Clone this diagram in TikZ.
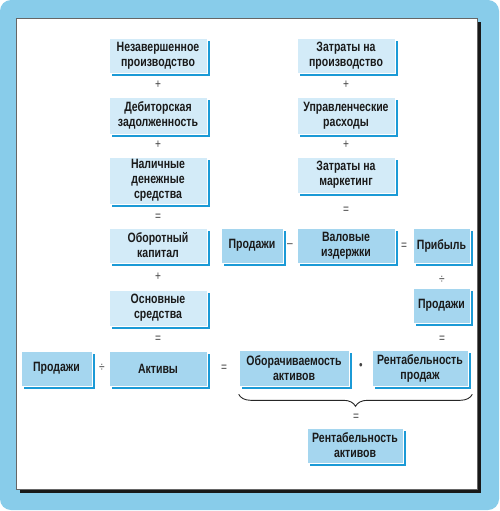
\documentclass[tikz,border=0pt]{standalone}
\usepackage{fontspec}
\setmainfont{Liberation Sans}[FakeStretch=0.78]
\usetikzlibrary{shadows,calc,decorations.pathreplacing}
\definecolor{outerblue}{HTML}{88CCEA}
\definecolor{lightbox}{HTML}{D3EBF8}
\definecolor{midbox}{HTML}{A5D6EF}
\definecolor{shadowblue}{HTML}{1B9AD6}
\definecolor{txt}{HTML}{1A1A1A}
\definecolor{optxt}{HTML}{444444}
\tikzset{
  boxbase/.style={draw=white, line width=0.6pt, align=center, text=txt,
    font=\fontsize{13.5}{15}\selectfont\bfseries, inner sep=0pt,
    drop shadow={shadow xshift=3.2pt, shadow yshift=-3.2pt, fill=shadowblue, opacity=1}},
  lbox/.style={boxbase, fill=lightbox},
  mbox/.style={boxbase, fill=midbox},
  op/.style={text=optxt, font=\fontsize{13}{14}\selectfont, inner sep=0pt}
}
\begin{document}
\begin{tikzpicture}[x=1pt,y=-1pt]
\useasboundingbox (0,0) rectangle (500,511);
\fill[white] (0,0) rectangle (500,511);
\fill[outerblue, rounded corners=11pt] (0,0) rectangle (499,510);
\fill[black!90] (20,22) rectangle (481,493);
\filldraw[fill=white, draw=black!60, line width=0.8pt] (16,18) rectangle (477,489);

% left column
\node[lbox, minimum width=98pt, minimum height=35pt] (nez) at (158,55.5) {Незавершенное\\производство};
\node[op] (p1) at (158,85) {+};
\node[lbox, minimum width=98pt, minimum height=37pt] (deb) at (158,115.5) {Дебиторская\\задолженность};
\node[op] (p2) at (158,145) {+};
\node[lbox, minimum width=98pt, minimum height=47pt] (nal) at (158,180.5) {Наличные\\денежные\\средства};
\node[op] (e1) at (158,217) {=};
\node[lbox, minimum width=98pt, minimum height=35pt] (obk) at (158,245.5) {Оборотный\\капитал};
\node[op] (p3) at (158,277) {+};
\node[lbox, minimum width=98pt, minimum height=36pt] (osn) at (158,308) {Основные\\средства};
\node[op] (e2) at (158,339) {=};
\node[mbox, minimum width=98pt, minimum height=35pt] (akt) at (158,368.5) {Активы};
\node[mbox, minimum width=71pt, minimum height=35pt] (prl) at (56.5,368.5) {Продажи};
\node[op] (d1) at (102,368) {÷};
\node[op] (e3) at (224,368) {=};

% right column
\node[lbox, minimum width=98pt, minimum height=35pt] (zpr) at (346,55.5) {Затраты на\\производство};
\node[op] (p4) at (346,85) {+};
\node[lbox, minimum width=98pt, minimum height=37pt] (upr) at (346,115.5) {Управленческие\\расходы};
\node[op] (p5) at (346,145) {+};
\node[lbox, minimum width=98pt, minimum height=36pt] (zmk) at (346,175) {Затраты на\\маркетинг};
\node[op] (e4) at (346,210) {=};
\node[mbox, minimum width=98pt, minimum height=35pt] (val) at (346,245.5) {Валовые\\издержки};
\node[mbox, minimum width=62pt, minimum height=35pt] (prm) at (252,245.5) {Продажи};
\node[op] (m1) at (290,246) {–};
\node[op] (e5) at (404,246) {=};
\node[mbox, minimum width=57pt, minimum height=35pt] (pri) at (441.5,245.5) {Прибыль};
\node[op] (d2) at (442,280) {÷};
\node[mbox, minimum width=57pt, minimum height=35pt] (prr) at (441.5,305.5) {Продажи};
\node[op] (e6) at (442,339) {=};

% bottom
\node[mbox, minimum width=110pt, minimum height=36pt] (obo) at (294,368) {Оборачиваемость\\активов};
\node[op] (dot) at (361,366) {•};
\node[mbox, minimum width=96pt, minimum height=36pt] (rpr) at (420,368) {Рентабельность\\продаж};
\draw[decorate, decoration={brace, mirror, amplitude=12pt}, line width=0.9pt, black!85]
  ($(obo.south west)+(0,8)$) coordinate (bl) -- ($(rpr.south east)+(4,8)$) coordinate (br);
\node[op] (e7) at (356,417) {=};
\node[mbox, minimum width=96pt, minimum height=35pt] (rak) at (355,445.5) {Рентабельность\\активов};
\end{tikzpicture}
\end{document}
